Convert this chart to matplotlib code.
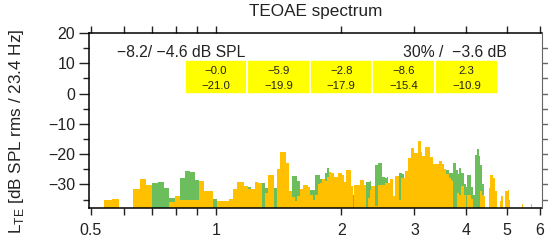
import numpy as np
import matplotlib
matplotlib.use("Agg")
import matplotlib.pyplot as plt

plt.rcParams['font.family'] = ['Liberation Sans', 'DejaVu Sans']
plt.rcParams['mathtext.fontset'] = 'custom'
plt.rcParams['mathtext.rm'] = 'Liberation Sans'

nan = float('nan')
bin_hz = 23.4

# orange spectrum, one value per 23.4 Hz bin, starting at bin 23
orange_start = 23
orange_db = [
    -35.2, -34.8, nan, nan, -31.5, -28.2, -30.1, nan, nan, nan,
    -35.9, -33.7, -35.3, -35.2, -35.2, -35.2, -29.0, -32.3, -32.3, nan,
    -35.6, -35.6, -35.5, -34.8, -31.4, -29.2, -29.3, -30.6, -31.4, -31.4,
    -29.2, -29.5, nan, -32.8, -26.8, -26.8, nan, -24.9, -19.4, -19.4,
    -22.9, -32.3, -34.1, -35.6, -34.0, -31.4, -30.1, -30.1, -31.0, -33.4,
    -35.0, -33.4, -30.0, -29.5, -28.2, -29.0, -27.6, -25.9, -26.3, -27.6,
    -27.6, -26.3, -26.3, -26.8, -29.3, -25.1, -25.1, -30.6, nan, -30.3,
    -30.3, -30.3, -28.6, -28.6, -30.1, nan, -34.6, -31.7, -30.4, -30.4,
    -37.0, -37.0, -30.1, -30.1, -30.1, -30.1, -29.6, -29.5, -29.5, -28.1,
    -28.1, -33.9, -27.3, -27.3, -27.3, -35.0, -28.0, -27.9, -27.9, -25.7,
    -25.7, -21.3, -21.3, -18.0, -18.0, -19.6, -19.6, -19.6, -15.8, -15.8,
    -19.3, -20.7, -20.7, -17.8, -17.8, -17.8, -17.8, -21.0, -21.0, -23.2,
    -23.2, -23.2, -23.4, -23.4, -22.4, -22.4, -23.4, -23.4, -24.8, -24.8,
    -26.7, -26.7, -28.0, -28.0, -28.5, -29.0, nan, nan, nan, -33.0,
    -33.0, -33.4, -33.4, -30.6, -30.6, -30.6, -33.4, -33.4, nan, -33.4,
    -33.4, -33.4, -34.7, -34.7, nan, nan, nan, nan, nan, nan,
    nan, -32.3, -32.3, -33.5, -33.5, -33.9, nan, nan, nan, nan,
    nan, -31.2, -26.8, -26.8, -26.8, -27.9, -27.9, -32.3, -32.3, nan,
    nan, nan, nan, -35.6, -33.7, -33.7, nan, nan, nan, -32.1,
    -32.1, -32.1, -31.9, -31.9, -35.0, nan, nan, nan, nan, nan,
    nan, nan, nan, nan, nan, nan, nan, nan, nan, -36.4,
    -36.4, nan, nan, nan, nan, nan, nan, nan, nan, nan,
    nan, nan, -36.6,
]

# green spectrum, starting at bin 30
green_start = 30
green_db = [
    -29.5, -29.2, -31.3, -34.5, nan, -27.9, -25.5, -25.9, -28.4, nan,
    nan, nan, -34.8, nan, nan, nan, nan, nan, nan, nan,
    nan, -31.0, nan, nan, nan, -29.5, -31.1, nan, nan, -31.1,
    nan, nan, nan, nan, nan, -27.1, -27.1, -29.0, nan, nan,
    nan, nan, -32.0, -31.7, -26.8, -26.8, -28.2, -29.0, -26.3, -24.6,
    nan, nan, nan, nan, nan, nan, nan, nan, nan, nan,
    nan, -33.5, nan, nan, nan, nan, nan, nan, -29.2, -29.2,
    -29.0, -32.0, -32.0, -23.5, -23.5, -23.0, -23.0, -27.4, -27.4, -28.0,
    -27.7, nan, nan, nan, nan, nan, nan, nan, -26.2, -26.2,
    -26.5, nan, nan, nan, nan, nan, nan, nan, nan, nan,
    nan, nan, nan, nan, nan, nan, nan, nan, nan, nan,
    nan, nan, nan, nan, nan, nan, nan, nan, nan, nan,
    nan, nan, nan, -25.2, -25.2, -26.2, -26.2, -26.2, -26.2, -22.9,
    -22.9, -25.2, -25.2, -26.7, -24.6, -24.6, -26.2, -26.2, -26.2, -30.0,
    -30.0, -31.0, -26.8, -26.8, -26.8, -30.9, -30.9, -33.4, -33.4, -20.2,
    -20.2, -18.2, -18.2, -20.7, -23.5, -23.5, -30.0, -30.0, -33.9,
]

# half-octave band results
band_centers = [1.0, 1.414, 2.0, 2.828, 4.0]
band_top = [-0.0, -5.9, -2.8, -8.6, 2.3]
band_bottom = [-21.0, -19.9, -17.9, -15.4, -10.9]

level_a, level_b = -8.2, -4.6
repro_pct, stab_db = 30, -3.6

floor_db = -45
txt = '#222222'


def fmt(v):
    return f"{v:.1f}".replace('-', '\u2212')


def edges(start, n):
    return (start + np.arange(n + 1)) * bin_hz / 1000.0


fig = plt.figure(figsize=(5.48, 2.47), dpi=100)
ax = fig.add_axes([89 / 548, 1 - 208 / 247, 453 / 548, 175 / 247])

g = np.nan_to_num(np.array(green_db), nan=floor_db)
o = np.nan_to_num(np.array(orange_db), nan=floor_db)
ax.stairs(g, edges(green_start, len(g)), baseline=floor_db, fill=True,
          color='#6cbe5c', lw=0)
ax.stairs(o, edges(orange_start, len(o)), baseline=floor_db, fill=True,
          color='#ffc000', lw=0)

# yellow result boxes
lo = [c * 2 ** -0.25 for c in band_centers]
hi = [c * 2 ** 0.25 for c in band_centers]
ax.bar(lo, 11.2, width=np.array(hi) - np.array(lo), bottom=0, align='edge',
       color='#ffff00', edgecolor='white', linewidth=1.2, zorder=3)
for c, t, b in zip(band_centers, band_top, band_bottom):
    ax.text(c, 7.4, fmt(t), ha='center', va='center', fontsize=8.2,
            color=txt, zorder=4)
    ax.text(c, 2.6, fmt(b), ha='center', va='center', fontsize=8.2,
            color=txt, zorder=4)

ax.text(0.062, 0.89, f"{fmt(level_a)}/ {fmt(level_b)} dB SPL",
        transform=ax.transAxes, ha='left', va='center', fontsize=11.3,
        color=txt)
ax.text(0.923, 0.89, f"{repro_pct}% /  {fmt(stab_db)} dB",
        transform=ax.transAxes, ha='right', va='center', fontsize=11.3,
        color=txt)

ax.set_xscale('log')
ax.set_xlim(0.495, 6.08)
ax.set_ylim(-37.8, 20)

xt = [0.5, 0.6, 0.7, 0.8, 0.9, 1, 2, 3, 4, 5, 6]
ax.set_xticks(xt)
ax.set_xticklabels(['0.5', '', '', '', '', '1', '2', '3', '4', '5', '6'])
ax.xaxis.set_minor_locator(matplotlib.ticker.NullLocator())
ax.tick_params(axis='x', which='major', direction='out', length=5, width=1,
               top=True, labelsize=11.5, pad=6, colors=txt)

ax.set_yticks([-30, -20, -10, 0, 10, 20])
ax.set_yticks(np.arange(-35, 20, 5), minor=True)
ax.tick_params(axis='y', which='major', direction='out', length=7, width=1,
               labelsize=11.5, pad=3, colors=txt)
ax.tick_params(axis='y', which='minor', direction='out', length=4, width=1,
               colors=txt)

# right axis with its own ticks
ax2 = ax.twinx()
ax2.set_ylim(ax.get_ylim())
ax2.set_yticks(np.arange(-35, 20, 5))
ax2.set_yticklabels([])
ax2.tick_params(axis='y', direction='out', length=4, width=1, colors='#666666')
ax2.spines['right'].set_color('#666666')
for s in ['left', 'top', 'bottom']:
    ax2.spines[s].set_visible(False)

for s in ['left', 'top', 'bottom']:
    ax.spines[s].set_linewidth(1.1)
ax.spines['right'].set_visible(False)

ax.set_title('TEOAE spectrum', fontsize=12.3, pad=12, color=txt)
ax.set_ylabel(r'$\mathrm{L}_{\mathrm{TE}}$ [dB SPL rms / 23.4 Hz]',
              fontsize=12.3, color=txt)
ax.yaxis.set_label_coords(-0.138, 0.44)

fig.savefig('out.png', dpi=100)
